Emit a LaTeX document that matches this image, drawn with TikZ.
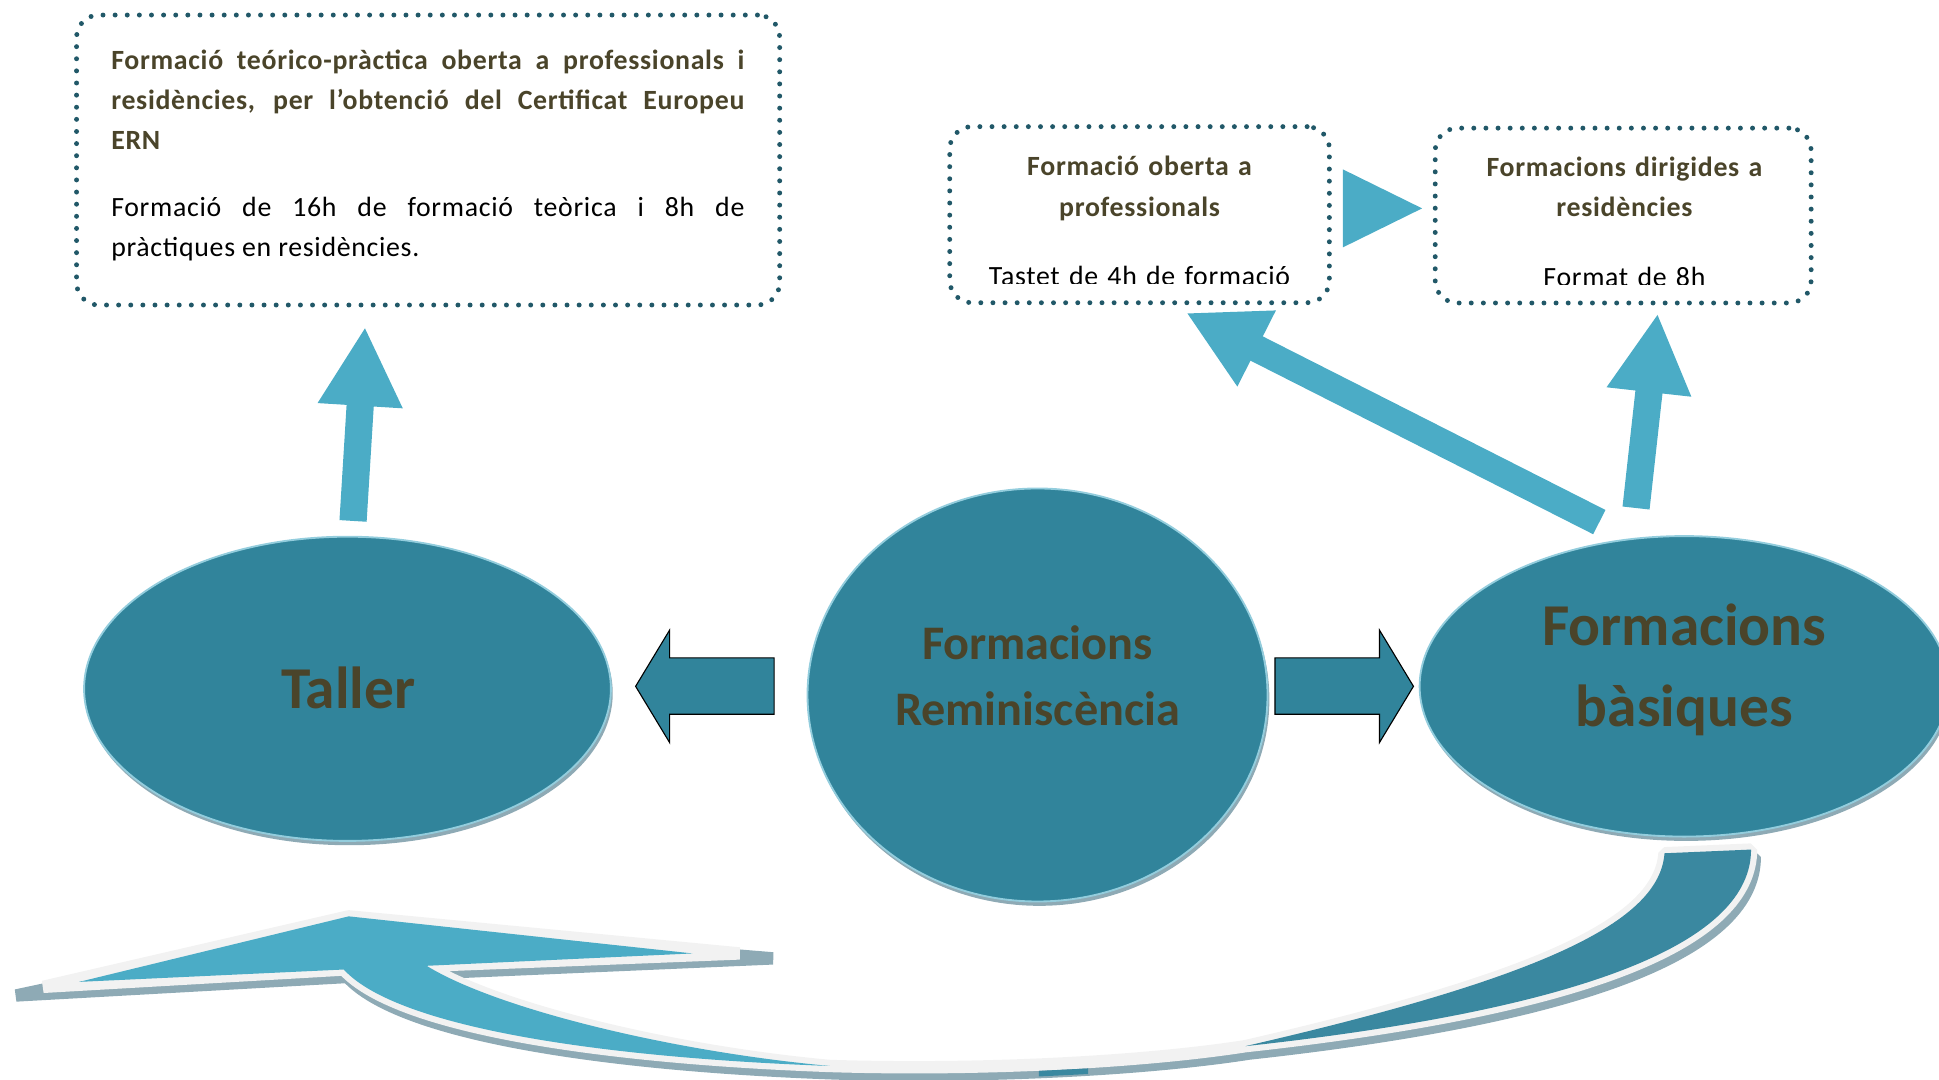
\documentclass[tikz,border=0pt]{standalone}
\usepackage{fontspec}
\setmainfont{Carlito}
\newfontfamily\boxfont[LetterSpace = 2.5]{Carlito}
\usetikzlibrary{shapes.geometric}
\usetikzlibrary{shadows}
\usetikzlibrary{arrows.meta}
\usetikzlibrary{calc}

\setlength{\parindent}{0pt}

\definecolor{bubblefill}{HTML}{31849B}
\definecolor{bubbleedge}{HTML}{93CDDD}
\definecolor{arrowblue}{HTML}{4BACC6}
\definecolor{hornteal}{HTML}{3A88A0}
\definecolor{dotline}{HTML}{215868}
\definecolor{textbrown}{HTML}{4A442A}
\definecolor{outlinegray}{HTML}{F2F2F2}
\definecolor{shadowgray}{HTML}{8EAAB5}

\tikzset{
  dotbox/.style = {draw = dotline, line width = 4pt,
    dash pattern = on 0pt off 9.8pt, line cap = round,
    rounded corners = 18pt, inner sep = 0pt},
  boxtext/.style = {font = \boxfont\fontsize{22.5}{32.4}\selectfont,
    inner sep = 0pt},
  bubble/.style = {ellipse, fill = bubblefill, draw = bubbleedge,
    line width = 1.5pt, inner sep = 0pt,
    drop shadow = {shadow xshift = 1.5pt, shadow yshift = -3.5pt,
      fill = shadowgray, opacity = 1}},
  bubbletext/.style = {text = textbrown, align = center, text width = 400pt,
    anchor = base, inner sep = 0pt},
  uparrow/.style = {draw = arrowblue, line width = 22pt,
    -{Triangle[length = 64pt, width = 64pt]}},
  blockarrow/.style = {fill = bubblefill, draw = black, line width = .9pt,
    line join = miter},
  curveband/.style = {line width = 10pt, line join = bevel}
}

\begin{document}
\begin{tikzpicture}[x = 1pt, y = -1pt]
  \useasboundingbox (0, 0) rectangle (1568, 873);
  \clip (0, 0) rectangle (1568, 873);

  % dotted boxes
  \node[dotbox, minimum width = 568.6pt, minimum height = 234.5pt]
  (certificat) at (346.2, 129.4) {};
  \node[dotbox, minimum width = 307pt, minimum height = 142.4pt]
  (oberta) at (921.5, 173.6) {};
  \node[dotbox, minimum width = 304pt, minimum height = 141.4pt]
  (dirigides) at (1312.6, 174.3) {};

  \node[boxtext, text width = 512pt, align = justify, anchor = base west]
  (certificat-text) at (89.8, 55.8)
  {{\bfseries\color{textbrown}Formació teórico-pràctica oberta a
      professionals i\linebreak residències, per l’obtenció del Certificat
      Europeu\linebreak ERN\par}
    \vspace{22pt}
    Formació de 16h de formació teòrica i 8h de\linebreak pràctiques en
    residències.};

  \begin{scope}
    \clip (768, 102) rectangle (1075, 229);
    \node[boxtext, text width = 300pt, align = center, anchor = base]
    (oberta-text) at (921.5, 142.3)
    {{\bfseries\color{textbrown}Formació oberta a\\professionals}\\[24pt]
      Tastet de 4h de formació};
  \end{scope}
  \begin{scope}
    \clip (1160, 102) rectangle (1465, 229.7);
    \node[boxtext, text width = 300pt, align = center, anchor = base]
    (dirigides-text) at (1313.6, 142.9)
    {{\bfseries\color{textbrown}Formacions dirigides a\\residències}\\[24pt]
      Format de 8h};
  \end{scope}

  \fill[arrowblue] (1086, 137) -- (1150, 168.5) -- (1086, 200) -- cycle;

  % ellipses
  \node[bubble, minimum width = 426pt, minimum height = 246pt]
  (taller) at (281, 557) {};
  \node[bubble, minimum width = 372pt, minimum height = 334pt]
  (remin) at (839, 562) {};
  \node[bubble, minimum width = 428pt, minimum height = 243pt]
  (basiques) at (1362, 555) {};

  \node[bubbletext, font = \fontsize{48}{58}\selectfont\bfseries]
  (taller-text) at ($(taller) + (.6, 15.8)$) {Taller};
  \node[bubbletext, font = \fontsize{39}{54}\selectfont\bfseries]
  (remin-text) at ($(remin) + (0, -29)$) {Formacions\\Reminiscència};
  \node[bubbletext, font = \fontsize{48}{66}\selectfont\bfseries]
  (basiques-text) at ($(basiques) + (0, -33.4)$) {Formacions\\bàsiques};

  % block arrows
  \coordinate (to-taller) at (514, 555);
  \coordinate (to-basiques) at (1143, 555);
  \draw[blockarrow] (to-taller) -- ++(27.5, -45.5) -- ++(0, 22.5) --
  ++(84.5, 0) -- ++(0, 45.6) -- ++(-84.5, 0) -- ++(0, 22.9) -- cycle;
  \draw[blockarrow] (to-basiques) -- ++(-27.5, -45.5) -- ++(0, 22.5) --
  ++(-84.5, 0) -- ++(0, 45.6) -- ++(84.5, 0) -- ++(0, 22.9) -- cycle;

  \coordinate (certificat-in) at (295.2, 264.2);
  \coordinate (oberta-in) at (959.1, 252.9);
  \coordinate (dirigides-in) at (1340.5, 253.4);
  \draw[uparrow] ($(taller.north) + (4.5, -12)$) -- (certificat-in);
  \draw[uparrow] (1293.3, 422.2) -- (oberta-in);
  \draw[uparrow] (1323, 410.8) -- (dirigides-in);

  % curved arrow back to Taller
  \begin{scope}[shift = {(3, 6)}]
    \filldraw[shadowgray, curveband]
    (1346, 690) .. controls (1342, 745) and (1250, 790) .. (1007, 846)
    .. controls (930, 858) and (800, 866) .. (671, 862)
    .. controls (540, 850) and (400, 815) .. (345, 781)
    -- (622, 769) -- (282, 741) -- (10, 799) -- (278, 784)
    .. controls (320, 830) and (480, 855) .. (671, 862)
    .. controls (800, 866) and (930, 858) .. (1007, 846)
    .. controls (1290, 815) and (1416, 760) .. (1416, 687) -- cycle;
  \end{scope}
  \filldraw[outlinegray, curveband]
  (1346, 690) .. controls (1342, 745) and (1250, 790) .. (1007, 846)
  .. controls (930, 858) and (800, 866) .. (671, 862)
  .. controls (540, 850) and (400, 815) .. (345, 781)
  -- (598, 771) -- (282, 741) -- (35, 798) -- (278, 784)
  .. controls (320, 830) and (480, 855) .. (671, 862)
  .. controls (800, 866) and (930, 858) .. (1007, 846)
  .. controls (1290, 815) and (1416, 760) .. (1416, 687) -- cycle;
  \fill[arrowblue] (345, 781) -- (560, 771) -- (282, 741) -- (64, 794) --
  (278, 784) .. controls (320, 830) and (480, 855) .. (671, 862)
  .. controls (540, 850) and (400, 815) .. (345, 781) -- cycle;
  \fill[hornteal] (1346, 690) .. controls (1342, 745) and (1250, 790) ..
  (1007, 846) .. controls (1290, 815) and (1416, 760) .. (1416, 687) -- cycle;
  \fill[hornteal] (840, 866) -- (880, 864) -- (880, 868.5) -- (840, 870.5) --
  cycle;
\end{tikzpicture}
\end{document}
